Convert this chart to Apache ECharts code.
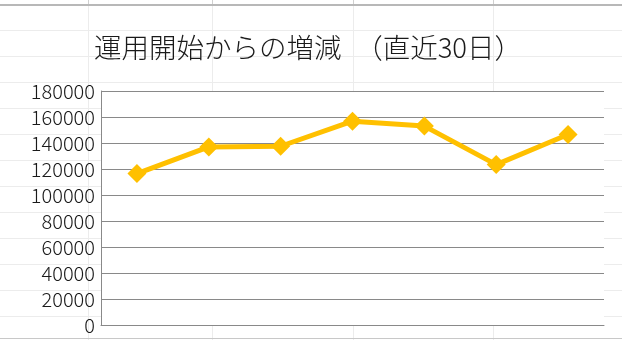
<!DOCTYPE html>
<html>
<head>
<meta charset="utf-8">
<script src="https://cdn.jsdelivr.net/npm/echarts@6/dist/echarts.min.js"></script>
<style>
html,body{margin:0;padding:0;background:#fff;}
#chart{width:622px;height:340px;}
</style>
</head>
<body>
<div id="chart"></div>
<script>
// Data
var titleText = '運用開始からの増減　（直近30日）';
var categories = ['1', '2', '3', '4', '5', '6', '7'];
var values = [116500, 137000, 137500, 156800, 153000, 123400, 146500];
var yTicks = [0, 20000, 40000, 60000, 80000, 100000, 120000, 140000, 160000, 180000];

// spreadsheet background decoration
var rowLines = [30.5, 56.5, 82.5, 108.5, 134.5, 160.5, 186.5, 212.5, 238.5, 264.5, 290.5, 316.5];
var colLines = [88.5, 212.5, 353.5, 493.5];

var graphics = [];
rowLines.forEach(function (y) {
  graphics.push({type: 'line', z: -10, silent: true,
    shape: {x1: 0, y1: y, x2: 622, y2: y}, style: {stroke: '#ececec', lineWidth: 1}});
});
colLines.forEach(function (x) {
  graphics.push({type: 'line', z: -10, silent: true,
    shape: {x1: x, y1: 6, x2: x, y2: 340}, style: {stroke: '#ececec', lineWidth: 1}});
  graphics.push({type: 'line', z: -9, silent: true,
    shape: {x1: x, y1: 0, x2: x, y2: 5}, style: {stroke: '#d0d0d0', lineWidth: 1}});
});
graphics.push({type: 'line', z: -8, silent: true,
  shape: {x1: 0, y1: 5, x2: 622, y2: 5}, style: {stroke: '#b8b8b8', lineWidth: 2}});
graphics.push({type: 'line', z: -8, silent: true,
  shape: {x1: 0, y1: 338.5, x2: 622, y2: 338.5}, style: {stroke: '#c8c8c8', lineWidth: 1}});

var chart = echarts.init(document.getElementById('chart'), null, {renderer: 'canvas'});
chart.setOption({
  animation: false,
  backgroundColor: '#fff',
  title: {
    text: titleText,
    left: 303,
    textAlign: 'center',
    top: 29,
    textStyle: {
      fontFamily: '"Noto Sans CJK JP", sans-serif',
      fontSize: 27.5,
      fontWeight: 300,
      color: '#1a1a1a'
    }
  },
  graphic: graphics,
  grid: {
    left: 101, right: 18, top: 91, bottom: 15,
    show: true, backgroundColor: '#fff', borderWidth: 0,
    containLabel: false
  },
  xAxis: {
    type: 'category',
    data: categories,
    boundaryGap: true,
    axisLine: {show: true, lineStyle: {color: '#898989', width: 1}},
    axisTick: {show: false},
    axisLabel: {show: false},
    splitLine: {show: false}
  },
  yAxis: {
    type: 'value',
    min: yTicks[0],
    max: yTicks[yTicks.length - 1],
    interval: yTicks[1] - yTicks[0],
    axisLine: {show: true, lineStyle: {color: '#898989', width: 1}},
    axisTick: {show: false},
    axisLabel: {
      margin: 6,
      formatter: function (v) { return String(v); },
      fontFamily: '"Noto Sans CJK JP", sans-serif',
      fontSize: 20,
      fontWeight: 300,
      color: '#1a1a1a'
    },
    splitLine: {show: true, lineStyle: {color: '#898989', width: 1}}
  },
  series: [{
    type: 'line',
    data: values,
    symbol: 'diamond',
    symbolSize: 19,
    showAllSymbol: true,
    lineStyle: {color: '#FFC000', width: 5},
    itemStyle: {color: '#FFC000', borderWidth: 0}
  }]
});
</script>
</body>
</html>
